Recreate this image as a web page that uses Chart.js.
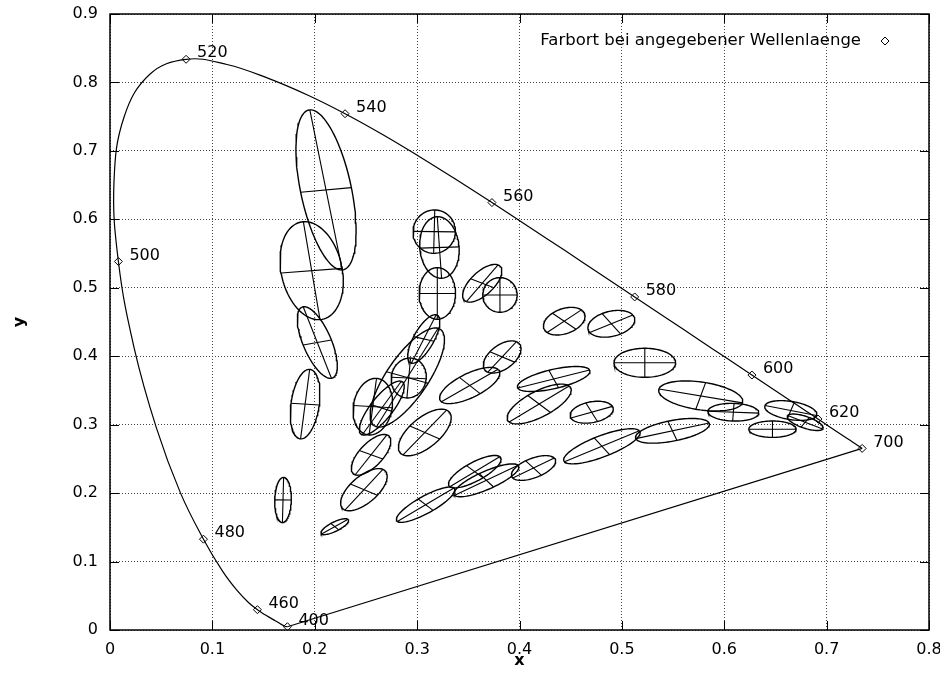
<!DOCTYPE html>
<html>
<head>
<meta charset="utf-8">
<script src="https://cdn.jsdelivr.net/npm/chart.js@4.4.1/dist/chart.umd.min.js"></script>
<style>
  html, body { margin: 0; padding: 0; background: #fff; }
  canvas { display: block; }
</style>
</head>
<body>
<canvas id="chart" width="940" height="674"></canvas>
<script>
// Spektralfarbenzug (CIE 1931), Wellenlaenge in nm
const wavelengths = [400, 405, 410, 415, 420, 425, 430, 435, 440, 445, 450, 455, 460, 465, 470, 475, 480, 485, 490, 495,
                     500, 505, 510, 515, 520, 525, 530, 535, 540, 545, 550, 555, 560, 565, 570, 575, 580, 585, 590, 595,
                     600, 605, 610, 615, 620, 625, 630, 640, 650, 660, 680, 700];
const locusX = [0.1733, 0.1730, 0.1726, 0.1721, 0.1714, 0.1703, 0.1689, 0.1669, 0.1644, 0.1611, 0.1566, 0.1510, 0.1440, 0.1355, 0.1241, 0.1096, 0.0913, 0.0687, 0.0454, 0.0235,
                0.0082, 0.0039, 0.0139, 0.0389, 0.0743, 0.1142, 0.1547, 0.1929, 0.2296, 0.2658, 0.3016, 0.3373, 0.3731, 0.4087, 0.4441, 0.4788, 0.5125, 0.5448, 0.5752, 0.6029,
                0.6270, 0.6482, 0.6658, 0.6801, 0.6915, 0.7006, 0.7079, 0.7190, 0.7260, 0.7300, 0.7334, 0.7347];
const locusY = [0.0048, 0.0048, 0.0048, 0.0048, 0.0051, 0.0058, 0.0069, 0.0086, 0.0109, 0.0138, 0.0177, 0.0227, 0.0297, 0.0399, 0.0578, 0.0868, 0.1327, 0.2007, 0.2950, 0.4127,
                0.5384, 0.6548, 0.7502, 0.8120, 0.8338, 0.8262, 0.8059, 0.7816, 0.7543, 0.7243, 0.6923, 0.6589, 0.6245, 0.5896, 0.5547, 0.5202, 0.4866, 0.4544, 0.4242, 0.3965,
                0.3725, 0.3514, 0.3340, 0.3197, 0.3083, 0.2993, 0.2920, 0.2809, 0.2740, 0.2700, 0.2666, 0.2653];
const markedWl = [400, 460, 480, 500, 520, 540, 560, 580, 600, 620, 700];

// Ellipsen: Mittelpunkt, Halbachsen, Winkel der grossen Achse (Grad)
const ellX   = [0.211, 0.197, 0.2025, 0.1906, 0.169, 0.2196, 0.255, 0.248, 0.3075, 0.3514, 0.3831, 0.2904, 0.3065,
                0.2567, 0.2655, 0.2918, 0.3167, 0.3218, 0.3197, 0.3636, 0.3809, 0.4437, 0.4897, 0.5224, 0.577,
                0.4705, 0.4334, 0.4192, 0.4805, 0.5494, 0.6089, 0.665, 0.6471, 0.679, 0.3083, 0.3563, 0.3677, 0.4137];
const ellY   = [0.643, 0.525, 0.420, 0.330, 0.190, 0.151, 0.256, 0.205, 0.2886, 0.3572, 0.3989, 0.3689, 0.4252,
                0.3263, 0.3243, 0.3682, 0.582, 0.5589, 0.4917, 0.5066, 0.4895, 0.4512, 0.4474, 0.3904, 0.342,
                0.3182, 0.3667, 0.3302, 0.2684, 0.291, 0.3182, 0.3207, 0.2934, 0.3035, 0.1831, 0.2313, 0.2187, 0.2367];
const ellA   = [0.118, 0.072, 0.054, 0.051, 0.033, 0.0168, 0.033, 0.035, 0.039, 0.0364, 0.0263, 0.078, 0.0374,
                0.0415, 0.0435, 0.0292, 0.0317, 0.045, 0.0377, 0.0309, 0.0253, 0.0235, 0.0246, 0.0301, 0.042,
                0.022, 0.0375, 0.0394, 0.043, 0.0376, 0.0249, 0.0262, 0.0231, 0.0197, 0.0369, 0.0328, 0.0379, 0.025];
const ellB   = [0.025, 0.030, 0.0143, 0.0138, 0.0081, 0.006, 0.013, 0.0155, 0.0174, 0.0156, 0.0142, 0.022, 0.0105,
                0.019, 0.012, 0.0171, 0.0207, 0.0192, 0.0178, 0.0131, 0.0168, 0.0164, 0.0174, 0.0212, 0.020,
                0.0147, 0.0136, 0.0166, 0.0143, 0.0147, 0.0129, 0.013, 0.012, 0.008, 0.011, 0.012, 0.012, 0.013];
const ellAngle = [97.7, 96.5, 104.8, 85, 89, 39.5, 62, 58, 57, 40.6, 58, 67.3, 71,
                  85, 64, 86.5, 89, 92.7, 90, 60, 90, 44.5, 31, 0, -14,
                  22.7, 20.5, 42, 31.7, 17.6, -3, -16, 0, -30, 41.5, 42, 35.3, 36];

const xTicks = [0, 0.1, 0.2, 0.3, 0.4, 0.5, 0.6, 0.7, 0.8];
const yTicks = [0, 0.1, 0.2, 0.3, 0.4, 0.5, 0.6, 0.7, 0.8, 0.9];
const legendLabel = 'Farbort bei angegebener Wellenlaenge';

const FONT = "'DejaVu Sans', 'Liberation Sans', sans-serif";

function buildDatasets() {
    const sets = [];
    const locus = wavelengths.map((w, i) => ({ x: locusX[i], y: locusY[i] }));
    sets.push({ data: locus, showLine: true, borderColor: '#000', borderWidth: 1.2, pointRadius: 0, tension: 0.4 });

    const n = wavelengths.length - 1;
    sets.push({
        data: [{ x: locusX[n], y: locusY[n] }, { x: locusX[0], y: locusY[0] }],
        showLine: true, borderColor: '#000', borderWidth: 1.2, pointRadius: 0
    });

    // Ellipsen mit beiden Achsen
    ellX.forEach((cx, k) => {
        const a = ellA[k], b = ellB[k], t = ellAngle[k] * Math.PI / 180;
        const c = Math.cos(t), s = Math.sin(t);
        const outline = [];
        for (let i = 0; i <= 90; i++) {
            const u = i / 90 * 2 * Math.PI;
            outline.push({ x: cx + a * Math.cos(u) * c - b * Math.sin(u) * s,
                           y: ellY[k] + a * Math.cos(u) * s + b * Math.sin(u) * c });
        }
        const style = { showLine: true, borderColor: '#000', borderWidth: 1.4, pointRadius: 0 };
        sets.push({ ...style, data: outline });
        sets.push({ ...style, borderWidth: 1.1, data: [{ x: cx - a * c, y: ellY[k] - a * s }, { x: cx + a * c, y: ellY[k] + a * s }] });
        sets.push({ ...style, borderWidth: 1.1, data: [{ x: cx + b * s, y: ellY[k] - b * c }, { x: cx - b * s, y: ellY[k] + b * c }] });
    });

    const marks = markedWl.map(w => {
        const i = wavelengths.indexOf(w);
        return { x: locusX[i], y: locusY[i], wl: w };
    });
    sets.push({
        label: legendLabel, data: marks, showLine: false,
        pointStyle: 'rectRot', pointRadius: 4, borderColor: '#000', borderWidth: 1,
        backgroundColor: '#fff'
    });
    return sets;
}

const framePlugin = {
    id: 'frame',
    afterDraw(chart) {
        const ctx = chart.ctx;
        const { left, right, top, bottom } = chart.chartArea;
        const xs = chart.scales.x, ys = chart.scales.y;
        ctx.save();
        ctx.strokeStyle = '#000';
        ctx.lineWidth = 1.5;
        ctx.strokeRect(left, top, right - left, bottom - top);

        // Ticks nach innen, auch gespiegelt
        ctx.lineWidth = 1;
        ctx.beginPath();
        xTicks.forEach(v => {
            const px = Math.round(xs.getPixelForValue(v)) + 0.5;
            ctx.moveTo(px, bottom); ctx.lineTo(px, bottom - 9);
            ctx.moveTo(px, top); ctx.lineTo(px, top + 9);
        });
        yTicks.forEach(v => {
            const py = Math.round(ys.getPixelForValue(v)) + 0.5;
            ctx.moveTo(left, py); ctx.lineTo(left + 9, py);
            ctx.moveTo(right, py); ctx.lineTo(right - 9, py);
        });
        ctx.stroke();

        // Wellenlaengen-Beschriftung
        ctx.fillStyle = '#000';
        ctx.font = '16px ' + FONT;
        ctx.textAlign = 'left';
        ctx.textBaseline = 'middle';
        markedWl.forEach(w => {
            const i = wavelengths.indexOf(w);
            ctx.fillText(String(w), xs.getPixelForValue(locusX[i]) + 11, ys.getPixelForValue(locusY[i]) - 6);
        });

        // Legende
        const ly = top + 27;
        ctx.font = '16.5px ' + FONT;
        ctx.textAlign = 'right';
        ctx.fillText(legendLabel, right - 68, ly);
        const lx = right - 44;
        ctx.beginPath();
        ctx.moveTo(lx, ly - 4); ctx.lineTo(lx + 4, ly); ctx.lineTo(lx, ly + 4); ctx.lineTo(lx - 4, ly);
        ctx.closePath();
        ctx.fillStyle = '#fff';
        ctx.fill();
        ctx.stroke();
        ctx.restore();
    }
};

function fmt(v) {
    return String(Math.round(v * 10) / 10);
}

Chart.defaults.font.family = FONT;
Chart.defaults.color = '#000';

new Chart(document.getElementById('chart'), {
    type: 'scatter',
    data: { datasets: buildDatasets() },
    options: {
        responsive: false,
        animation: false,
        devicePixelRatio: 1,
        layout: { padding: { left: 0, right: 11, top: 14, bottom: 4 } },
        plugins: { legend: { display: false }, tooltip: { enabled: false } },
        scales: {
            x: {
                type: 'linear', min: 0, max: 0.8,
                afterFit: s => { s.height = 40; s.paddingLeft = 0; s.paddingRight = 0; },
                afterBuildTicks: s => { s.ticks = xTicks.map(v => ({ value: v })); },
                ticks: { callback: fmt, font: { size: 16 }, padding: 10, maxRotation: 0 },
                grid: { color: '#444', lineWidth: 1, drawTicks: false },
                border: { display: false, dash: [1, 2] },
                title: { display: true, text: 'x', font: { size: 16, weight: 'bold' }, padding: { top: 0, bottom: 0 } }
            },
            y: {
                type: 'linear', min: 0, max: 0.9,
                afterFit: s => { s.width = 110; s.paddingTop = 0; s.paddingBottom = 0; },
                afterBuildTicks: s => { s.ticks = yTicks.map(v => ({ value: v })); },
                ticks: { callback: fmt, font: { size: 16 }, padding: 12 },
                grid: { color: '#444', lineWidth: 1, drawTicks: false },
                border: { display: false, dash: [1, 2] },
                title: { display: true, text: 'y', font: { size: 16, weight: 'bold' }, padding: { top: 10, bottom: 0 } }
            }
        }
    },
    plugins: [framePlugin]
});
</script>
</body>
</html>
